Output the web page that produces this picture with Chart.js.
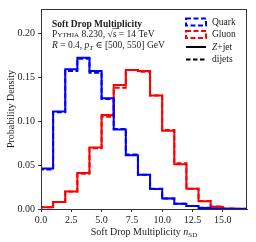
<!DOCTYPE html>
<html><head><meta charset="utf-8">
<script src="https://cdn.jsdelivr.net/npm/chart.js@4/dist/chart.umd.min.js"></script>
<style>html,body{margin:0;padding:0;background:#fff}#c{display:block}</style>
</head><body>
<canvas id="c" width="256" height="242"></canvas>
<script>
// bin left edges 0..16, width 1
const binEdges = [0,1,2,3,4,5,6,7,8,9,10,11,12,13,14,15,16,17];
const quarkZjet  = [0.046,0.111,0.159,0.172,0.157,0.126,0.0905,0.061,0.039,0.0227,0.012,0.006,0.0034,0.0012,0.0004,0.0001,0];
const quarkDijet = [0.045,0.110,0.157,0.171,0.155,0.125,0.091,0.062,0.039,0.023,0.012,0.006,0.0035,0.0013,0.0004,0.0001,0];
const gluonZjet  = [0.002,0.008,0.020,0.041,0.070,0.107,0.141,0.158,0.157,0.129,0.089,0.051,0.023,0.0088,0.0027,0.0007,0.0002];
const gluonDijet = [0.002,0.008,0.020,0.040,0.069,0.105,0.138,0.158,0.156,0.129,0.090,0.052,0.023,0.009,0.0028,0.0007,0.0002];
const xTicks = [0,2.5,5,7.5,10,12.5,15];
const yTicks = [0,0.05,0.10,0.15,0.20];
const legendLabels = ['Quark','Gluon','Z+jet','dijets'];

const FONT = '"Liberation Serif", "DejaVu Serif", serif';

function hist(vals){
  const pts=[{x:binEdges[0],y:0}];
  vals.forEach((v,i)=>pts.push({x:binEdges[i],y:v}));
  pts.push({x:binEdges[vals.length],y:0});
  return pts;
}

const frame = {
  id:'frame',
  afterDraw(chart){
    const {ctx, chartArea:a} = chart;
    ctx.save();
    ctx.strokeStyle='#333'; ctx.lineWidth=1;
    ctx.strokeRect(Math.round(a.left)+0.5, Math.round(a.top)+0.5, Math.round(a.right-a.left)-1, Math.round(a.bottom-a.top));
    // annotation text
    ctx.fillStyle='#222'; ctx.textBaseline='alphabetic'; ctx.textAlign='left';
    let x=52;
    ctx.font='bold 9.5px '+FONT;
    ctx.fillText('Soft Drop Multiplicity', x, 27);
    // line 2: Pythia small caps
    let y=37;
    ctx.font='9.5px '+FONT; ctx.fillText('P', x, y); let cx = x+ctx.measureText('P').width;
    ctx.font='7px '+FONT; ctx.fillText('YTHIA', cx, y); cx += ctx.measureText('YTHIA').width;
    ctx.font='9.5px '+FONT; let t=' 8.230, '; ctx.fillText(t,cx,y); cx+=ctx.measureText(t).width;
    ctx.fillText('\u221A', cx, y); cx+=ctx.measureText('\u221A').width;
    ctx.font='italic 9.5px '+FONT; ctx.fillText('s', cx, y);
    const sw=ctx.measureText('s').width;
    ctx.beginPath(); ctx.moveTo(cx-0.5,y-8.5); ctx.lineTo(cx+sw+0.5,y-8.5); ctx.lineWidth=0.6; ctx.strokeStyle='#222'; ctx.stroke();
    cx+=sw;
    ctx.font='9.5px '+FONT; t=' = 14 TeV'; ctx.fillText(t,cx,y);
    // line 3
    y=47.5; cx=x;
    ctx.font='italic 9.5px '+FONT; ctx.fillText('R',cx,y); cx+=ctx.measureText('R').width;
    ctx.font='9.5px '+FONT; t=' = 0.4, '; ctx.fillText(t,cx,y); cx+=ctx.measureText(t).width;
    ctx.font='italic 9.5px '+FONT; ctx.fillText('p',cx,y); cx+=ctx.measureText('p').width;
    ctx.font='italic 7px '+FONT; ctx.fillText('T',cx,y+2); cx+=ctx.measureText('T').width;
    ctx.font='9.5px '+FONT; t=' \u2208 [500, 550] GeV'; ctx.fillText(t,cx,y);
    // legend
    const lx=186, lw=20, tx=212;
    const rows=[22,34.5,47,59.5];
    ctx.lineWidth=2;
    [['#0000ff',0],['#ff0000',1]].forEach(([c,i])=>{
      ctx.strokeStyle=c; ctx.setLineDash([5,2.5]);
      ctx.strokeRect(lx, rows[i]-3.5, lw, 7);
    });
    ctx.strokeStyle='#000';
    ctx.setLineDash([]); ctx.beginPath(); ctx.moveTo(lx,rows[2]); ctx.lineTo(lx+lw,rows[2]); ctx.stroke();
    ctx.setLineDash([4.5,2.5]); ctx.beginPath(); ctx.moveTo(lx,rows[3]); ctx.lineTo(lx+lw,rows[3]); ctx.stroke();
    ctx.setLineDash([]);
    ctx.fillStyle='#222'; ctx.textBaseline='middle';
    ctx.font='9.5px '+FONT;
    ctx.fillText(legendLabels[0], tx, rows[0]);
    ctx.fillText(legendLabels[1], tx, rows[1]);
    ctx.font='italic 9.5px '+FONT; ctx.fillText('Z', tx, rows[2]);
    let zw=ctx.measureText('Z').width;
    ctx.font='9.5px '+FONT; ctx.fillText('+jet', tx+zw, rows[2]);
    ctx.fillText(legendLabels[3], tx, rows[3]);
    // x-axis title with subscript
    ctx.textBaseline='alphabetic';
    const main='Soft Drop Multiplicity ';
    ctx.font='10px '+FONT; const mw=ctx.measureText(main).width;
    ctx.font='italic 10px '+FONT; const nw=ctx.measureText('n').width;
    ctx.font='7px '+FONT; const sbw=ctx.measureText('SD').width;
    let sx=(a.left+a.right)/2 - (mw+nw+sbw)/2; const sy=235;
    ctx.font='10px '+FONT; ctx.fillText(main,sx,sy); sx+=mw;
    ctx.font='italic 10px '+FONT; ctx.fillText('n',sx,sy); sx+=nw;
    ctx.font='7px '+FONT; ctx.fillText('SD',sx,sy+2);
    ctx.restore();
  }
};

const ds=(d,c,dash)=>({data:hist(d),borderColor:c,borderWidth:2,borderDash:dash,stepped:'before',pointRadius:0,fill:false,tension:0,borderCapStyle:'butt',borderJoinStyle:'miter'});

new Chart(document.getElementById('c'),{
  type:'line',
  data:{datasets:[
    ds(quarkZjet,'#0000ff',[]),
    ds(quarkDijet,'#0000ff',[5,2.5]),
    ds(gluonZjet,'#ff0000',[]),
    ds(gluonDijet,'#ff0000',[5,2.5])
  ]},
  options:{
    responsive:false, animation:false, devicePixelRatio:1,
    layout:{padding:{top:9,right:9,left:0,bottom:0}},
    plugins:{legend:{display:false},tooltip:{enabled:false}},
    scales:{
      x:{type:'linear',min:0,max:17,
        afterFit(s){s.height=33;},
        afterBuildTicks(s){s.ticks=xTicks.map(v=>({value:v}));},
        ticks:{font:{family:FONT,size:10},color:'#222',padding:2,maxRotation:0,callback:v=>v.toFixed(1)},
        grid:{drawOnChartArea:false,drawTicks:true,tickLength:3,color:'#333'},
        border:{color:'#333'}
      },
      y:{min:0,max:0.2275,
        afterFit(s){s.width=41;},
        afterBuildTicks(s){s.ticks=yTicks.map(v=>({value:v}));},
        ticks:{font:{family:FONT,size:10},color:'#222',padding:3,callback:v=>v.toFixed(2)},
        grid:{drawOnChartArea:false,drawTicks:true,tickLength:3,color:'#333'},
        border:{color:'#333'},
        title:{display:true,text:'Probability Density',font:{family:FONT,size:10},color:'#222',padding:{top:5,bottom:0}}
      }
    }
  },
  plugins:[frame]
});
</script>
</body></html>
